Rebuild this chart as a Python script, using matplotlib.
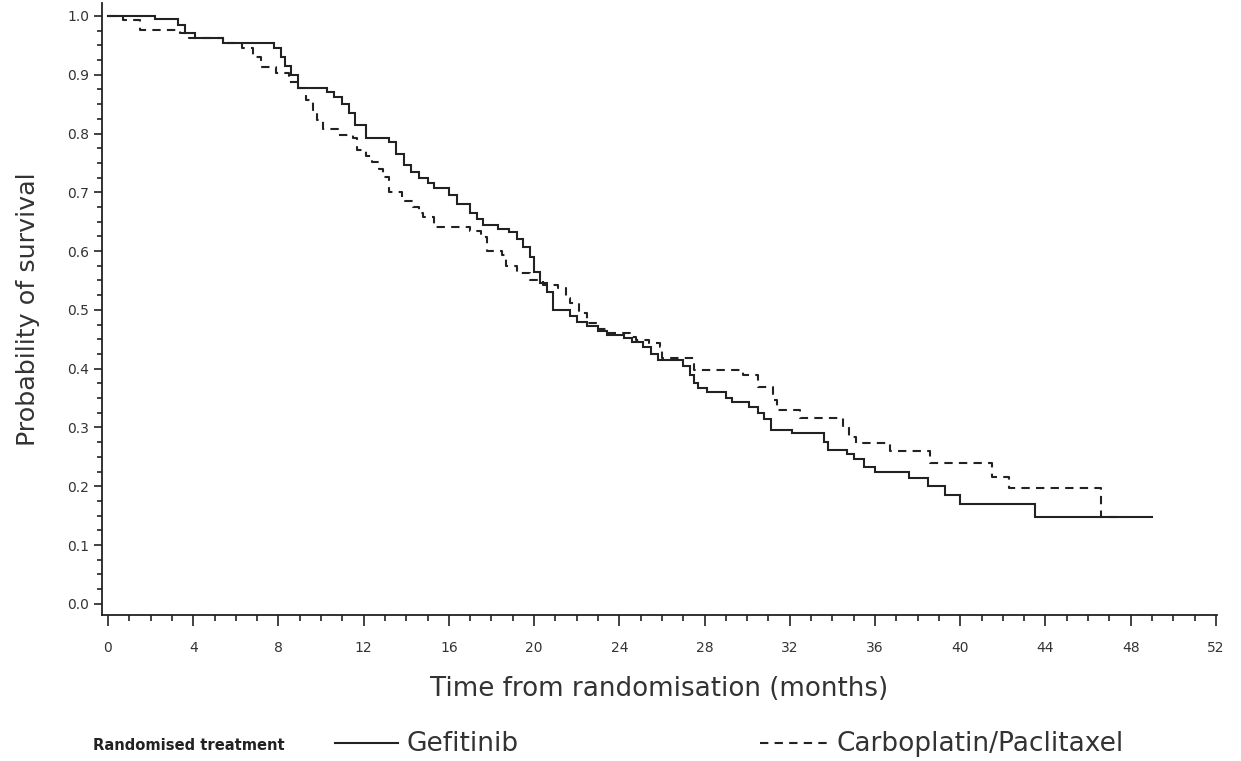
import matplotlib
matplotlib.use("Agg")
import matplotlib.pyplot as plt
from matplotlib.lines import Line2D
from matplotlib.ticker import MultipleLocator

# ---- data ----
gef_t = [0, 2.2, 3.3, 3.6, 4.1, 5.4, 7.8, 8.1, 8.3, 8.6, 8.9, 10.3, 10.6, 11.0, 11.3, 11.6,
         12.1, 13.2, 13.5, 13.9, 14.2, 14.6, 15.0, 15.3, 16.0, 16.4, 17.0, 17.3, 17.6, 18.3,
         18.8, 19.2, 19.5, 19.8, 20.0, 20.3, 20.6, 20.9, 21.7, 22.0, 22.5, 23.0, 23.4, 24.2,
         24.6, 25.1, 25.5, 25.8, 27.0, 27.3, 27.5, 27.7, 28.1, 29.0, 29.3, 30.1, 30.5, 30.8,
         31.1, 32.1, 33.6, 33.8, 34.7, 35.0, 35.5, 36.0, 37.6, 38.5, 39.3, 40.0, 43.5, 49.0]
gef_s = [1.0, 0.994, 0.985, 0.971, 0.962, 0.954, 0.945, 0.93, 0.915, 0.90, 0.877, 0.87, 0.862,
         0.85, 0.835, 0.815, 0.793, 0.785, 0.765, 0.746, 0.735, 0.724, 0.715, 0.707, 0.695,
         0.68, 0.665, 0.655, 0.645, 0.638, 0.632, 0.62, 0.607, 0.59, 0.565, 0.545, 0.53, 0.50,
         0.49, 0.48, 0.472, 0.464, 0.457, 0.452, 0.445, 0.437, 0.425, 0.415, 0.405, 0.39,
         0.375, 0.367, 0.36, 0.35, 0.343, 0.335, 0.325, 0.315, 0.296, 0.29, 0.275, 0.262,
         0.255, 0.247, 0.233, 0.224, 0.214, 0.20, 0.185, 0.17, 0.148, 0.148]

carbo_t = [0, 0.7, 1.5, 3.4, 3.8, 5.4, 6.3, 6.8, 7.2, 7.9, 8.5, 8.9, 9.3, 9.6, 9.8, 10.1, 10.8,
           11.5, 11.7, 12.1, 12.4, 12.7, 12.9, 13.2, 13.8, 14.3, 14.6, 14.8, 15.3, 17.0, 17.5,
           17.8, 18.5, 18.7, 19.2, 19.8, 20.4, 21.1, 21.5, 21.7, 22.1, 22.5, 23.0, 23.4, 24.5,
           24.8, 25.4, 25.9, 26.0, 27.5, 29.8, 30.5, 31.2, 31.4, 32.5, 34.5, 34.8, 35.1, 36.7,
           38.6, 41.5, 42.3, 46.6, 47.7]
carbo_s = [1.0, 0.993, 0.976, 0.971, 0.962, 0.954, 0.945, 0.93, 0.913, 0.903, 0.888, 0.877,
           0.857, 0.84, 0.823, 0.808, 0.798, 0.792, 0.772, 0.762, 0.752, 0.74, 0.726, 0.70,
           0.685, 0.675, 0.665, 0.658, 0.641, 0.635, 0.624, 0.600, 0.594, 0.575, 0.563, 0.551,
           0.543, 0.537, 0.52, 0.512, 0.495, 0.478, 0.468, 0.46, 0.454, 0.449, 0.443, 0.437,
           0.418, 0.398, 0.39, 0.369, 0.347, 0.33, 0.316, 0.30, 0.284, 0.274, 0.26, 0.24,
           0.216, 0.197, 0.148, 0.148]

x_ticks = list(range(0, 53, 4))
y_ticks = [round(0.1 * i, 1) for i in range(11)]
series_names = ["Gefitinib", "Carboplatin/Paclitaxel"]
legend_title = "Randomised treatment"

TXT = "#333333"
LINE = "#222222"

fig = plt.figure(figsize=(12.41, 7.61), dpi=100)
ax = fig.add_axes([102 / 1241, 1 - 615 / 761, (1217 - 102) / 1241, (615 - 3) / 761])

ax.step(gef_t, gef_s, where="post", color=LINE, lw=1.5, solid_joinstyle="miter")
ax.step(carbo_t, carbo_s, where="post", color=LINE, lw=1.5, linestyle=(0, (4, 3)))

ax.set_xlim(-0.28, 52.05)
ax.set_ylim(-0.019, 1.022)
ax.set_xticks(x_ticks)
ax.set_yticks(y_ticks)
ax.set_yticklabels([f"{v:.1f}" for v in y_ticks])
ax.xaxis.set_minor_locator(MultipleLocator(1))
ax.yaxis.set_minor_locator(MultipleLocator(0.025))
for s in ["top", "right"]:
    ax.spines[s].set_visible(False)
for s in ["left", "bottom"]:
    ax.spines[s].set_linewidth(1.3)
    ax.spines[s].set_color(LINE)
ax.tick_params(axis="x", which="major", length=8, width=1.2, color=LINE, labelsize=10,
               labelcolor=TXT, pad=11)
ax.tick_params(axis="x", which="minor", length=4.5, width=1.2, color=LINE)
ax.tick_params(axis="y", which="major", length=6, width=1.2, color=LINE, labelsize=10,
               labelcolor=TXT, pad=3)
ax.tick_params(axis="y", which="minor", length=3.5, width=1.2, color=LINE)

ax.set_xlabel("Time from randomisation (months)", fontsize=18.8, color=TXT, labelpad=15)
ax.set_ylabel("Probability of survival", fontsize=18.3, color=TXT, labelpad=20)

# legend row
fig.text(93 / 1241, 1 - 746 / 761, legend_title, fontsize=10.6, color="#222222",
         fontweight="bold", va="center", ha="left")
fig.add_artist(Line2D([335 / 1241, 398 / 1241], [1 - 743 / 761] * 2, color=LINE, lw=1.5))
fig.text(407 / 1241, 1 - 744 / 761, series_names[0], fontsize=19, color=TXT,
         va="center", ha="left")
fig.add_artist(Line2D([760 / 1241, 828 / 1241], [1 - 743 / 761] * 2, color=LINE, lw=1.5,
                      linestyle=(0, (4, 3))))
fig.text(837 / 1241, 1 - 744 / 761, series_names[1], fontsize=19, color=TXT,
         va="center", ha="left")

fig.savefig("out.png", dpi=100)
